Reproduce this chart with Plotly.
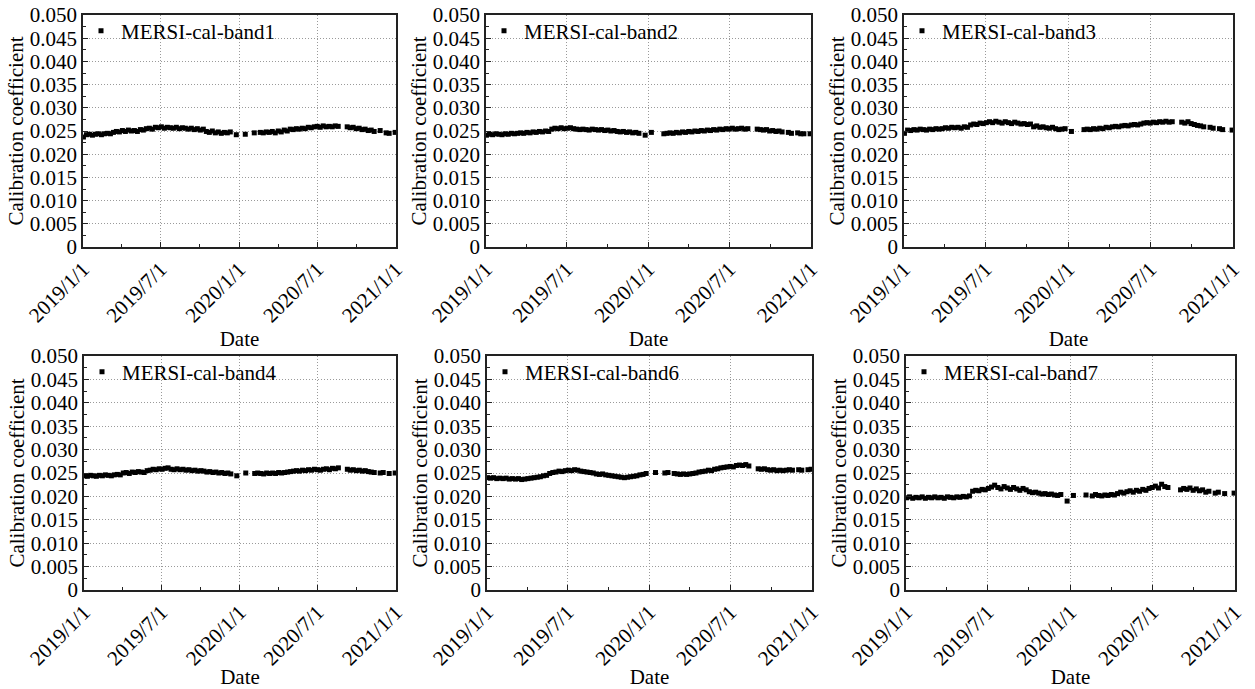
import plotly.graph_objects as go
import pandas as pd

# weekly sampling dates (2019-01-02 ... 2020-12-30)
dates = pd.date_range("2019-01-02", periods=105, freq="7D")

band1 = [0.0237, 0.0242, 0.0243, 0.0241, 0.0243, 0.0244, 0.0242, 0.0244, 0.0245, 0.0244,
         0.0247, 0.0249, 0.0248, 0.0251, 0.0249, 0.0252, 0.0250, 0.0251, 0.0249, 0.0253,
         0.0252, 0.0255, 0.0256, 0.0254, 0.0258, 0.0257, 0.0259, 0.0256, 0.0258, 0.0257,
         0.0256, 0.0258, 0.0255, 0.0257, 0.0256, 0.0254, 0.0256, 0.0253, 0.0255, 0.0252,
         0.0254, 0.0249, 0.0247, 0.0250, 0.0246, 0.0248, 0.0245, 0.0247, 0.0246, 0.0248,
         None, 0.0242, None, None, 0.0243, None, None, 0.0246, None, 0.0247,
         0.0246, 0.0248, 0.0247, 0.0249, 0.0246, 0.0250, 0.0248, 0.0252, 0.0250, 0.0254,
         0.0253, 0.0255, 0.0254, 0.0256, 0.0255, 0.0258, 0.0257, 0.0259, 0.0260, 0.0258,
         0.0261, 0.0259, 0.0260, 0.0259, 0.0261, 0.0260, None, None, 0.0259, 0.0257,
         0.0258, 0.0255, 0.0256, 0.0253, 0.0254, 0.0251, 0.0252, 0.0249, None, 0.0251,
         None, 0.0246, 0.0245, None, 0.0247]

band2 = [0.0241, 0.0243, 0.0242, 0.0244, 0.0243, 0.0242, 0.0244, 0.0243, 0.0245, 0.0244,
         0.0245, 0.0246, 0.0245, 0.0247, 0.0246, 0.0248, 0.0247, 0.0249, 0.0248, 0.0250,
         0.0249, 0.0254, 0.0256, 0.0255, 0.0257, 0.0255, 0.0256, 0.0257, 0.0255, 0.0254,
         0.0253, 0.0254, 0.0253, 0.0252, 0.0254, 0.0253, 0.0252, 0.0253, 0.0251, 0.0252,
         0.0250, 0.0251, 0.0249, 0.0248, 0.0249, 0.0247, 0.0248, 0.0246, 0.0247, 0.0245,
         None, 0.0241, None, 0.0247, None, None, None, 0.0244, 0.0245, 0.0246,
         0.0245, 0.0247, 0.0246, 0.0248, 0.0247, 0.0249, 0.0248, 0.0250, 0.0249, 0.0251,
         0.0250, 0.0252, 0.0251, 0.0253, 0.0252, 0.0254, 0.0253, 0.0255, 0.0254, 0.0256,
         0.0254, 0.0255, 0.0256, 0.0254, 0.0255, None, None, 0.0254, 0.0253, 0.0252,
         0.0253, 0.0250, 0.0251, 0.0249, 0.0250, 0.0248, None, 0.0247, 0.0245, None,
         0.0246, 0.0244, 0.0244, None, 0.0244]

band3 = [0.0245, 0.0252, 0.0251, 0.0253, 0.0252, 0.0254, 0.0253, 0.0252, 0.0254, 0.0253,
         0.0255, 0.0254, 0.0255, 0.0257, 0.0256, 0.0258, 0.0257, 0.0258, 0.0256, 0.0259,
         0.0258, 0.0263, 0.0265, 0.0264, 0.0267, 0.0266, 0.0268, 0.0270, 0.0268, 0.0271,
         0.0269, 0.0267, 0.0270, 0.0268, 0.0266, 0.0269, 0.0267, 0.0265, 0.0266, 0.0264,
         0.0265, 0.0259, 0.0261, 0.0258, 0.0259, 0.0257, 0.0256, 0.0258, 0.0255, 0.0253,
         0.0254, 0.0255, None, 0.0249, None, None, None, 0.0253, 0.0254, 0.0253,
         0.0255, 0.0254, 0.0256, 0.0255, 0.0258, 0.0257, 0.0259, 0.0260, 0.0259, 0.0261,
         0.0262, 0.0261, 0.0263, 0.0264, 0.0263, 0.0265, 0.0267, 0.0268, 0.0267, 0.0269,
         0.0268, 0.0270, 0.0269, 0.0271, 0.0269, 0.0270, None, None, 0.0269, 0.0267,
         0.0270, 0.0266, 0.0264, 0.0262, 0.0261, 0.0259, None, 0.0258, 0.0256, None,
         0.0255, 0.0253, None, None, 0.0252]

band4 = [0.0244, 0.0243, 0.0245, 0.0244, 0.0243, 0.0245, 0.0244, 0.0246, 0.0245, 0.0244,
         0.0246, 0.0247, 0.0246, 0.0250, 0.0251, 0.0249, 0.0252, 0.0251, 0.0253, 0.0252,
         0.0251, 0.0255, 0.0256, 0.0258, 0.0257, 0.0259, 0.0258, 0.0260, 0.0261, 0.0258,
         0.0257, 0.0259, 0.0257, 0.0258, 0.0256, 0.0257, 0.0255, 0.0256, 0.0254, 0.0255,
         0.0254, 0.0252, 0.0253, 0.0251, 0.0252, 0.0250, 0.0251, 0.0249, 0.0250, 0.0248,
         None, 0.0244, None, None, 0.0250, None, None, 0.0249, 0.0250, 0.0249,
         0.0248, 0.0250, 0.0249, 0.0250, 0.0249, 0.0251, 0.0250, 0.0251, 0.0252, 0.0253,
         0.0254, 0.0255, 0.0254, 0.0256, 0.0255, 0.0257, 0.0256, 0.0258, 0.0257, 0.0256,
         0.0258, 0.0259, 0.0257, 0.0260, 0.0259, 0.0261, None, None, 0.0258, 0.0256,
         0.0257, 0.0255, 0.0256, 0.0254, 0.0255, 0.0253, 0.0252, 0.0251, None, 0.0250,
         0.0251, None, 0.0249, None, 0.0250]

band6 = [0.0240, 0.0239, 0.0240, 0.0238, 0.0239, 0.0238, 0.0239, 0.0237, 0.0238, 0.0237,
         0.0238, 0.0236, 0.0237, 0.0238, 0.0239, 0.0240, 0.0241, 0.0242, 0.0244, 0.0245,
         0.0249, 0.0251, 0.0252, 0.0254, 0.0253, 0.0255, 0.0256, 0.0255, 0.0257, 0.0256,
         0.0254, 0.0253, 0.0252, 0.0251, 0.0250, 0.0248, 0.0247, 0.0248, 0.0246, 0.0245,
         0.0244, 0.0243, 0.0242, 0.0241, 0.0240, 0.0241, 0.0242, 0.0243, 0.0244, 0.0246,
         0.0247, 0.0249, None, None, 0.0251, None, None, 0.0250, 0.0251, None,
         0.0249, 0.0248, 0.0247, 0.0248, 0.0247, 0.0248, 0.0249, 0.0250, 0.0252, 0.0253,
         0.0254, 0.0256, 0.0255, 0.0258, 0.0259, 0.0261, 0.0262, 0.0263, 0.0264, 0.0263,
         0.0266, 0.0267, 0.0266, 0.0268, 0.0265, None, None, 0.0259, 0.0258, 0.0259,
         0.0257, 0.0256, 0.0257, 0.0255, 0.0256, 0.0255, 0.0256, 0.0257, 0.0256, None,
         0.0257, 0.0256, None, 0.0257, 0.0258]

band7 = [0.0197, 0.0199, 0.0196, 0.0198, 0.0197, 0.0199, 0.0196, 0.0198, 0.0197, 0.0199,
         0.0197, 0.0198, 0.0196, 0.0199, 0.0198, 0.0197, 0.0199, 0.0198, 0.0200, 0.0199,
         0.0201, 0.0211, 0.0213, 0.0212, 0.0215, 0.0214, 0.0217, 0.0220, 0.0224, 0.0219,
         0.0216, 0.0221, 0.0218, 0.0215, 0.0219, 0.0216, 0.0213, 0.0217, 0.0214, 0.0210,
         0.0208, 0.0209, 0.0207, 0.0205, 0.0206, 0.0204, 0.0205, 0.0203, 0.0202, 0.0204,
         None, 0.0190, None, 0.0202, None, None, None, 0.0203, None, 0.0201,
         0.0204, 0.0202, 0.0201, 0.0203, 0.0202, 0.0204, 0.0203, 0.0206, 0.0209, 0.0207,
         0.0210, 0.0212, 0.0209, 0.0213, 0.0211, 0.0215, 0.0213, 0.0217, 0.0219, 0.0222,
         0.0218, 0.0226, 0.0221, 0.0219, None, None, None, 0.0214, 0.0217, 0.0215,
         0.0218, 0.0213, 0.0216, 0.0212, 0.0214, 0.0209, 0.0211, None, 0.0207, 0.0209,
         None, 0.0206, None, None, 0.0207]

band_names = ["MERSI-cal-band1", "MERSI-cal-band2", "MERSI-cal-band3",
              "MERSI-cal-band4", "MERSI-cal-band6", "MERSI-cal-band7"]
band_values = [band1, band2, band3, band4, band6, band7]

x_tick_vals = ["2019-01-01", "2019-07-01", "2020-01-01", "2020-07-01", "2021-01-01"]
x_tick_text = ["2019/1/1", "2019/7/1", "2020/1/1", "2020/7/1", "2021/1/1"]
x_minor_vals = ["2019-04-01", "2019-10-01", "2020-04-01", "2020-10-01"]
y_tick_vals = [0, 0.005, 0.010, 0.015, 0.020, 0.025, 0.030, 0.035, 0.040, 0.045, 0.050]
y_tick_text = ["0", "0.005", "0.010", "0.015", "0.020", "0.025", "0.030", "0.035",
               "0.040", "0.045", "0.050"]
y_minor_vals = [0.0025, 0.0075, 0.0125, 0.0175, 0.0225, 0.0275, 0.0325, 0.0375,
                0.0425, 0.0475]

W, H = 1255, 689
FONT = "Liberation Serif"
FS = 21

# pixel boxes of each panel: (left, right), (top, bottom)
x_px = [(83, 396), (486, 811), (904, 1233), (84, 396), (487, 812), (906, 1235)]
y_px = [(15, 247), (15, 247), (15, 247), (356, 590), (356, 590), (356, 590)]

fig = go.Figure()
layout = dict(
    width=W, height=H,
    margin=dict(l=0, r=0, t=0, b=0),
    paper_bgcolor="white", plot_bgcolor="white",
    font=dict(family=FONT, size=FS, color="black"),
)

for i, (name, vals) in enumerate(zip(band_names, band_values)):
    s = "" if i == 0 else str(i + 1)
    fig.add_trace(go.Scatter(
        x=dates, y=vals, mode="markers", name=name,
        marker=dict(symbol="square", size=5, color="black"),
        xaxis="x" + s, yaxis="y" + s, legend="legend" + s, showlegend=True,
    ))
    (xl, xr), (yt, yb) = x_px[i], y_px[i]
    layout["xaxis" + s] = dict(
        domain=[xl / W, xr / W], anchor="y" + s, type="date",
        range=["2019-01-01", "2021-01-01"],
        tickmode="array", tickvals=x_tick_vals, ticktext=x_tick_text, tickangle=-45,
        ticks="inside", ticklen=5, tickcolor="#222",
        showgrid=True, gridcolor="#9a9a9a", griddash="1px,2px", gridwidth=1,
        showline=True, linecolor="#222", linewidth=1.5, mirror=True, zeroline=False,
        minor=dict(tickmode="array", tickvals=x_minor_vals, ticks="inside", ticklen=3,
                   tickcolor="#222", showgrid=False),
        tickfont=dict(family=FONT, size=FS),
        title=dict(text="Date", font=dict(family=FONT, size=FS), standoff=3),
        automargin=False,
    )
    layout["yaxis" + s] = dict(
        domain=[1 - yb / H, 1 - yt / H], anchor="x" + s,
        range=[0, 0.05],
        tickmode="array", tickvals=y_tick_vals, ticktext=y_tick_text,
        ticks="inside", ticklen=5, tickcolor="#222",
        showgrid=True, gridcolor="#9a9a9a", griddash="1px,2px", gridwidth=1,
        showline=True, linecolor="#222", linewidth=1.5, mirror=True, zeroline=False,
        minor=dict(tickmode="array", tickvals=y_minor_vals, ticks="inside", ticklen=3,
                   tickcolor="#222", showgrid=False),
        tickfont=dict(family=FONT, size=FS),
        title=dict(text="Calibration coefficient", font=dict(family=FONT, size=FS), standoff=0),
        automargin=False,
    )
    layout["legend" + s] = dict(
        x=(xl - 2) / W, y=1 - (yt + 16) / H, xanchor="left", yanchor="middle",
        bgcolor="rgba(0,0,0,0)", borderwidth=0,
        font=dict(family=FONT, size=FS, color="black"),
    )

fig.update_layout(**layout)
fig.write_html("out.html")
